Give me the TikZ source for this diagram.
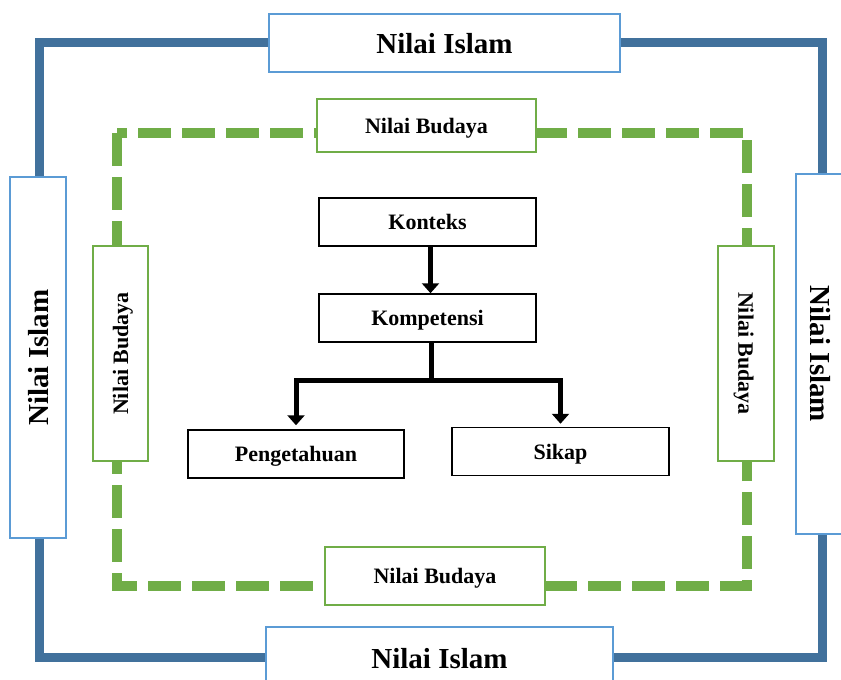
\documentclass[tikz,border=0pt]{standalone}
\usepackage{fontspec}
\setmainfont{Liberation Serif}
\usetikzlibrary{arrows.meta}
\definecolor{frameblue}{HTML}{41719C}
\definecolor{boxblue}{HTML}{5B9BD5}
\definecolor{framegreen}{HTML}{70AD47}
\tikzset{
  capcenter/.style={text depth=0pt},
  islambox/.style={draw=boxblue, line width=1.5pt, fill=white, inner sep=0pt, capcenter,
    font=\fontsize{29}{31}\selectfont\bfseries},
  budayabox/.style={draw=framegreen, line width=1.5pt, fill=white, inner sep=0pt, capcenter,
    font=\fontsize{22}{24}\selectfont\bfseries},
  corebox/.style={draw=black, line width=1.5pt, fill=white, inner sep=0pt, capcenter,
    minimum width=217pt, minimum height=48pt,
    font=\fontsize{22}{24}\selectfont\bfseries},
  islamframe/.style={draw=frameblue, line width=9pt},
  budayaframe/.style={draw=framegreen, line width=10pt, dash pattern=on 33pt off 11pt},
  flow/.style={draw=black, line width=5pt},
  flowarrow/.style={flow, -{Triangle[width=17pt,length=10pt]}}
}
\begin{document}
\begin{tikzpicture}[x=1pt,y=-1pt]
\clip (0,0) rectangle (841,680);
\fill[white] (0,0) rectangle (841,680);
% frames
\draw[islamframe] (39,42) rectangle (822,657);
\draw[budayaframe] (117,133) rectangle (747,586);
% Nilai Islam boxes
\node[islambox, minimum width=351pt, minimum height=58pt] (it) at (444.5,43) {Nilai Islam};
\node[islambox, minimum width=347pt, minimum height=62pt] (ib) at (439.5,658) {Nilai Islam};
\node[islambox, minimum width=361pt, minimum height=56pt, rotate=90] (il) at (38,357.5) {Nilai Islam};
\node[islambox, minimum width=360pt, minimum height=50pt, rotate=-90] (ir) at (821,354) {Nilai Islam};
% Nilai Budaya boxes
\node[budayabox, minimum width=219pt, minimum height=53pt] (bt) at (426.5,125.5) {Nilai Budaya};
\node[budayabox, minimum width=220pt, minimum height=58pt] (bb) at (435,576) {Nilai Budaya};
\node[budayabox, minimum width=215pt, minimum height=55pt, rotate=90] (bl) at (120.5,353.5) {Nilai Budaya};
\node[budayabox, minimum width=215pt, minimum height=56pt, rotate=-90] (br) at (746,353.5) {Nilai Budaya};
% core
\node[corebox] (kon) at (427.5,222) {Konteks};
\node[corebox] (kom) at (427.5,318) {Kompetensi};
\node[corebox, minimum width=216pt] (peng) at (296,454) {Pengetahuan};
\node[corebox] (sik) at (560.5,451.5) {Sikap};
\coordinate (j) at (431,380);
\draw[flowarrow] ([xshift=3pt]kon.south) -- ([xshift=3pt]kom.north);
\draw[flow] ([xshift=3.5pt]kom.south) -- (j);
\draw[flowarrow, shorten >=4pt] (j) -| (peng.north);
\draw[flowarrow, shorten >=3pt] (j) -| (sik.north);
\end{tikzpicture}
\end{document}
